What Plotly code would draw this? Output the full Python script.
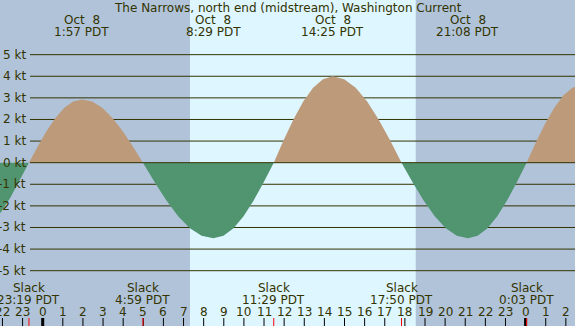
import plotly.graph_objects as go

# ---- data (hours from Oct 8 00:00 PDT) ----
times = [-3.42, -2.964, -2.508, -2.052, -1.596, -1.139, -0.683, -0.244, 0.194, 0.633,
         1.072, 1.511, 1.95, 2.456, 2.961, 3.467, 3.972, 4.478, 4.983, 5.567, 6.15,
         6.733, 7.317, 7.9, 8.483, 8.983, 9.483, 9.983, 10.483, 10.983, 11.483, 11.972,
         12.461, 12.95, 13.439, 13.928, 14.417, 14.986, 15.556, 16.125, 16.694, 17.264,
         17.833, 18.383, 18.933, 19.483, 20.033, 20.583, 21.133, 21.619, 22.106, 22.592,
         23.078, 23.564, 24.05, 24.508, 24.967, 25.425, 25.883, 26.342, 26.8]
speeds = [-3.2, -3.091, -2.771, -2.263, -1.6, -0.828, 0, 0.758, 1.465, 2.072,
          2.537, 2.83, 2.93, 2.83, 2.537, 2.072, 1.465, 0.758, 0, -0.906, -1.75,
          -2.475, -3.031, -3.381, -3.5, -3.381, -3.031, -2.475, -1.75, -0.906, 0, 1.035,
          2.0, 2.828, 3.464, 3.864, 4.0, 3.864, 3.464, 2.828, 2.0, 1.035,
          0, -0.906, -1.75, -2.475, -3.031, -3.381, -3.5, -3.381, -3.031, -2.475,
          -1.75, -0.906, 0, 0.932, 1.8, 2.546, 3.118, 3.477, 3.6]

max_hours = [-3.42, 1.95, 8.483, 14.417, 21.133, 26.8]
max_days = ["Oct\u00a0\u00a07", "Oct\u00a0\u00a08", "Oct\u00a0\u00a08", "Oct\u00a0\u00a08", "Oct\u00a0\u00a08", "Oct\u00a0\u00a09"]
max_labels = ["20:35 PDT", "1:57 PDT", "8:29 PDT", "14:25 PDT", "21:08 PDT", "2:48 PDT"]

slack_hours = [-0.683, 4.983, 11.483, 17.833, 24.05]
slack_labels = ["23:19 PDT", "4:59 PDT", "11:29 PDT", "17:50 PDT", "0:03 PDT"]

sunrise, sunset = 7.32, 18.54
hour_ticks = list(range(-2, 27))
kt_levels = [5, 4, 3, 2, 1, 0, -1, -2, -3, -4, -5]

title = "The Narrows, north end (midstream), Washington Current"

# ---- style ----
W, H = 575, 326
NIGHT = "#B0C3D9"
DAY = "#DEF6FF"
FLOOD = "#BD9B7A"
EBB = "#509570"
INK = "#333300"
FONT = dict(family="DejaVu Sans", size=12, color=INK)
XR = [-2.122, 26.455]
YR = [-7.56, 7.53]

def py(px):
    return 1 - px / H

fig = go.Figure()
flood = [max(v, 0) for v in speeds]
ebb = [min(v, 0) for v in speeds]
fig.add_trace(go.Scatter(x=times, y=flood, mode="lines", fill="tozeroy",
                         fillcolor=FLOOD, line=dict(width=0, color=FLOOD), hoverinfo="skip"))
fig.add_trace(go.Scatter(x=times, y=ebb, mode="lines", fill="tozeroy",
                         fillcolor=EBB, line=dict(width=0, color=EBB), hoverinfo="skip"))

shapes = []
shapes.append(dict(type="rect", xref="x", yref="paper", x0=sunrise, x1=sunset, y0=0, y1=1,
                   fillcolor=DAY, line=dict(width=0), layer="below"))
for k in kt_levels:
    shapes.append(dict(type="line", xref="paper", yref="y", x0=30 / W, x1=1, y0=k, y1=k,
                       line=dict(color=INK, width=1), layer="above" if k == 0 else "below"))
for h in hour_ticks:
    shapes.append(dict(type="line", xref="x", yref="paper", x0=h, x1=h, y0=0, y1=8 / H,
                       line=dict(color="black", width=3 if h % 24 == 0 else 1)))
for h in slack_hours:
    shapes.append(dict(type="line", xref="x", yref="paper", x0=h, x1=h, y0=0, y1=8 / H,
                       line=dict(color="red", width=1)))

ann = []
ann.append(dict(text=title, x=0.5, xref="paper", y=py(8), yref="paper", showarrow=False,
                font=FONT, xanchor="center", yanchor="middle"))
for h, d, l in zip(max_hours, max_days, max_labels):
    ann.append(dict(text=d, x=h, xref="x", y=py(20), yref="paper", showarrow=False,
                    font=FONT, xanchor="center", yanchor="middle"))
    ann.append(dict(text=l, x=h, xref="x", y=py(32), yref="paper", showarrow=False,
                    font=FONT, xanchor="center", yanchor="middle"))
for h, l in zip(slack_hours, slack_labels):
    ann.append(dict(text="Slack", x=h, xref="x", y=py(288), yref="paper", showarrow=False,
                    font=FONT, xanchor="center", yanchor="middle"))
    ann.append(dict(text=l, x=h, xref="x", y=py(299.5), yref="paper", showarrow=False,
                    font=FONT, xanchor="center", yanchor="middle"))
for h in hour_ticks:
    ann.append(dict(text=str(h % 24), x=h, xref="x", y=py(312), yref="paper", showarrow=False,
                    font=FONT, xanchor="center", yanchor="middle"))
for k in kt_levels:
    ann.append(dict(text=f"{k} kt", x=28 / W, xref="paper", y=k, yref="y", showarrow=False,
                    font=FONT, xanchor="right", yanchor="middle"))

fig.update_layout(width=W, height=H, margin=dict(l=0, r=0, t=0, b=0),
                  paper_bgcolor=NIGHT, plot_bgcolor=NIGHT, showlegend=False,
                  xaxis=dict(range=XR, visible=False, fixedrange=True),
                  yaxis=dict(range=YR, visible=False, fixedrange=True),
                  shapes=shapes, annotations=ann)
fig.write_html("out.html", config={"displayModeBar": False},
               post_script="document.body.style.margin='0';document.body.style.overflow='hidden';")
